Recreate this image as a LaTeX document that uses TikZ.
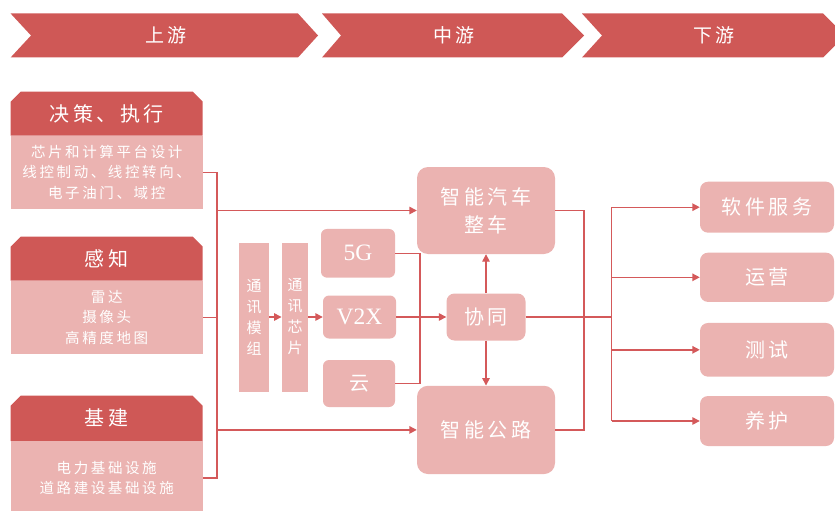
\documentclass[tikz,border=0pt]{standalone}
\usepackage{fontspec}
\setmainfont{Liberation Serif}
\newfontfamily\cjk{Noto Sans CJK SC}[LetterSpace=18]
\usetikzlibrary{arrows.meta,shapes.misc}
\definecolor{dark}{HTML}{CF5856}
\definecolor{light}{HTML}{EBB3B1}
\definecolor{line}{HTML}{D4595A}
\tikzset{
  hdr/.style={chamfered rectangle, chamfered rectangle corners={north west,north east},
    chamfered rectangle xsep=5pt, chamfered rectangle ysep=5pt, fill=dark, draw=none,
    inner sep=0pt, minimum width=192pt, text=white, font=\cjk\fontsize{20}{24}\selectfont},
  bodybox/.style={rectangle, fill=light, inner sep=0pt, minimum width=192pt, text=white,
    align=center, font=\cjk\fontsize{14.5}{20.5}\selectfont},
  midbox/.style={rectangle, rounded corners=6pt, fill=light, inner sep=0pt, text=white,
    align=center, font=\cjk\fontsize{20}{28}\selectfont},
  bigbox/.style={midbox, rounded corners=11pt},
  latin/.style={font=\fontsize{23.5}{26}\selectfont},
  vbox/.style={rectangle, fill=light, inner sep=0pt, text=white, align=center,
    font=\cjk\fontsize{15}{21}\selectfont},
  rbox/.style={midbox, rounded corners=8pt, minimum width=134pt},
  conn/.style={draw=line, line width=1.4pt},
  arr/.style={conn, -{Triangle[length=7.5pt,width=7.5pt]}},
  bannertext/.style={text=white, font=\cjk\fontsize{19}{22}\selectfont},
}
\begin{document}
\begin{tikzpicture}[x=1pt,y=-1pt]
\useasboundingbox (0,0) rectangle (835,511);
\clip (0,0) rectangle (835,511);
% banners
\fill[dark] (10.6,13.5) -- (298,13.5) -- (318,35.5) -- (298,57.5) -- (10.6,57.5) -- (31,35.5) -- cycle;
\fill[dark] (322,13.5) -- (562,13.5) -- (584,35.5) -- (562,57.5) -- (322,57.5) -- (341,35.5) -- cycle;
\fill[dark] (582,13.5) -- (823,13.5) -- (845,35.5) -- (823,57.5) -- (582,57.5) -- (602,35.5) -- cycle;
\node[bannertext] (up) at (166,35.5) {上游};
\node[bannertext] (mid) at (454,35.5) {中游};
\node[bannertext] (down) at (714,35.5) {下游};
% left boxes
\node[hdr, minimum height=44pt] (h1) at (106.7,113.7) {决策、执行};
\node[bodybox, minimum height=73.3pt] (b1) at (106.7,172.35) {芯片和计算平台设计\\线控制动、线控转向、\\电子油门、域控};
\node[hdr, minimum height=44pt] (h2) at (106.7,258.7) {感知};
\node[bodybox, minimum height=73.3pt] (b2) at (106.7,317.35) {雷达\\摄像头\\高精度地图};
\node[hdr, minimum height=45.3pt] (h3) at (106.7,418.35) {基建};
\node[bodybox, minimum height=74pt] (b3) at (106.7,478) {电力基础设施\\道路建设基础设施};
% comm
\node[vbox, minimum width=30pt, minimum height=149pt] (mod) at (254,317) {通\\讯\\模\\组};
\node[vbox, minimum width=26.5pt, minimum height=149pt] (chip) at (295,317) {通\\讯\\芯\\片};
\node[midbox, latin, minimum width=74pt, minimum height=48.7pt] (g5) at (358,253.3) {5G};
\node[midbox, latin, minimum width=73pt, minimum height=43pt] (v2x) at (359.5,317) {V2X};
\node[midbox, minimum width=72pt, minimum height=47pt] (cloud) at (359,383.5) {云};
% center
\node[bigbox, minimum width=138pt, minimum height=87pt] (car) at (486,210.5) {智能汽车\\整车};
\node[midbox, rounded corners=8pt, minimum width=79pt, minimum height=47pt] (xt) at (486,317) {协同};
\node[bigbox, minimum width=138pt, minimum height=88.3pt] (road) at (486,429.9) {智能公路};
% right
\node[rbox, minimum height=51pt] (sw) at (767,207.2) {软件服务};
\node[rbox, minimum height=49.3pt] (yy) at (767,277.3) {运营};
\node[rbox, minimum height=53.7pt] (cs) at (767,349.8) {测试};
\node[rbox, minimum height=50pt] (yh) at (767,421) {养护};
% connectors left
\coordinate (bx) at (217,0);
\draw[conn] (b1.east) -- (b1.east -| bx) -- (b3.east -| bx) -- (b3.east);
\draw[conn] (b2.east) -- (b2.east -| bx);
\draw[arr] (car.west -| bx) -- (car.west);
\draw[arr] (road.west -| bx) -- (road.west);
% comm connectors
\draw[arr] (mod.east) -- (chip.west);
\draw[arr] (chip.east) -- (v2x.west);
\coordinate (cx) at (420,0);
\draw[conn] (g5.east) -- (g5.east -| cx) -- (cloud.east -| cx) -- (cloud.east);
\draw[arr] (v2x.east) -- (xt.west);
\draw[arr] (xt.north) -- (car.south);
\draw[arr] (xt.south) -- (road.north);
% right connectors
\coordinate (rx) at (584,0);
\draw[conn] (car.east) -- (car.east -| rx) -- (road.east -| rx) -- (road.east);
\coordinate (dx) at (611.7,0);
\draw[conn] (xt.east) -- (xt.east -| dx);
\draw[conn] (sw.west -| dx) -- (yh.west -| dx);
\draw[arr] (sw.west -| dx) -- (sw.west);
\draw[arr] (yy.west -| dx) -- (yy.west);
\draw[arr] (cs.west -| dx) -- (cs.west);
\draw[arr] (yh.west -| dx) -- (yh.west);
\end{tikzpicture}
\end{document}
